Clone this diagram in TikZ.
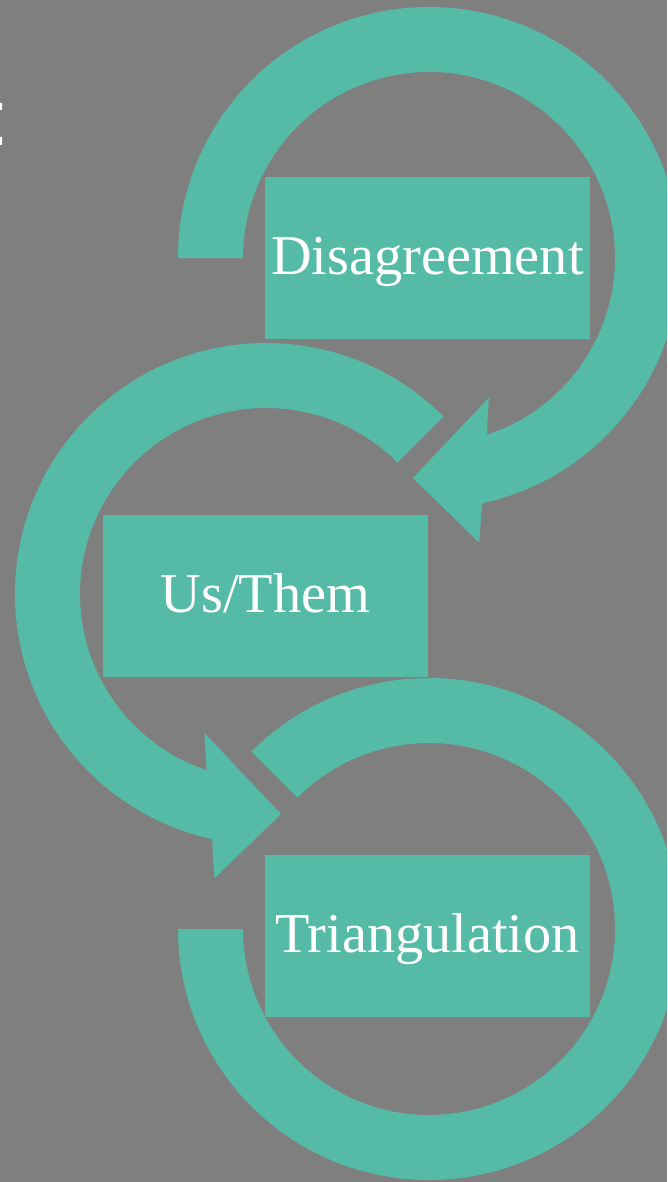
\documentclass[tikz,border=0pt]{standalone}
\usepackage{fontspec}
\setmainfont{Liberation Serif}
\usetikzlibrary{shadows}

\definecolor{bggray}{HTML}{7F7F7F}
\definecolor{teal}{HTML}{55BBA7}

\begin{document}
\begin{tikzpicture}[x=0.03cm,y=0.03cm,
    ring/.style={fill=teal,drop shadow={shadow xshift=1.5pt,shadow yshift=-1.5pt,opacity=0.3}},
    box/.style={fill=teal,inner sep=0pt,minimum width=9.75cm,minimum height=4.86cm,
        text=white,font=\fontsize{48}{56}\selectfont,text height=36pt,text depth=7.2pt,
        drop shadow={shadow xshift=1.5pt,shadow yshift=-1.5pt,opacity=0.3}}]
    \clip (0,0) rectangle (667,-1182);
    \fill[bggray] (0,0) rectangle (667,-1182);
    \fill[white] (0,-103) rectangle (2,-110) (0,-137) rectangle (2,-145);
    % top ring, clockwise, head at bottom
    \begin{scope}[shift={(429,-258)}]
        \path[ring] (180:251) arc[start angle=180,end angle=-77.8,radius=251]
            -- (-80:289) -- (-94.2:220.6) -- (-66.8:152) -- (-71.9:186)
            arc[start angle=-71.9,end angle=180,radius=186] -- cycle;
    \end{scope}
    % middle ring, counter-clockwise
    \begin{scope}[shift={(266,-594)}]
        \path[ring] (45:251) arc[start angle=45,end angle=257.6,radius=251]
            -- (259.7:289) -- (273.9:220.6) -- (246.1:152) -- (251.4:186)
            arc[start angle=251.4,end angle=45,radius=186] -- cycle;
    \end{scope}
    % bottom ring, no head
    \begin{scope}[shift={(429,-929)}]
        \path[ring] (135:251) arc[start angle=135,end angle=-180,radius=251]
            -- (180:186) arc[start angle=-180,end angle=135,radius=186] -- cycle;
    \end{scope}
    \node[box] (dis) at (427.5,-258) {Disagreement};
    \node[box] (us) at (265.5,-596) {Us/Them};
    \node[box] (tri) at (427.5,-935.5) {Triangulation};
\end{tikzpicture}
\end{document}
